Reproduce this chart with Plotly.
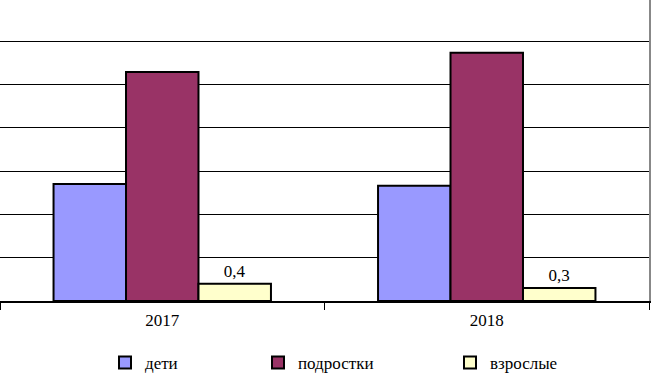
import plotly.graph_objects as go

years = ["2017", "2018"]
deti = [2.70, 2.66]
podrostki = [5.29, 5.73]
vzroslye = [0.4, 0.3]

series_names = ["дети", "подростки", "взрослые"]
colors = ["#9999FF", "#993366", "#FFFFCC"]

FONT = "Liberation Serif"
PW = 649.0
PH = 301.0

fig = go.Figure()
legend_px = [105, 258, 450]
for i, (name, vals, col) in enumerate(zip(series_names, [deti, podrostki, vzroslye], colors)):
    lg = "legend" if i == 0 else f"legend{i+1}"
    kw = {}
    if name == "взрослые":
        kw = dict(texttemplate="%{y:.1f}", textposition="outside",
                  textfont=dict(family=FONT, size=17, color="black"), cliponaxis=False)
    fig.add_trace(go.Bar(
        x=years, y=vals, name=name,
        marker=dict(color=col, line=dict(color="black", width=2)),
        legend=lg, **kw))

legend_common = dict(orientation="h", yanchor="middle", xanchor="left", y=(PH - 363) / PH,
                     font=dict(family=FONT, size=17, color="black"),
                     bgcolor="rgba(0,0,0,0)", borderwidth=0)

fig.update_layout(
    template="none",
    font=dict(family=FONT, size=17, color="black"),
    width=652, height=374,
    margin=dict(l=0, r=3, t=0, b=73, autoexpand=False),
    plot_bgcolor="white", paper_bgcolor="white",
    separators=",.",
    bargap=0.33, bargroupgap=0,
    showlegend=True,
    legend=dict(x=legend_px[0] / PW, **legend_common),
    legend2=dict(x=legend_px[1] / PW, **legend_common),
    legend3=dict(x=legend_px[2] / PW, **legend_common),
    xaxis=dict(type="category", showline=True, linecolor="black", linewidth=2,
               ticks="outside", tickson="boundaries", ticklen=7, tickcolor="black", tickwidth=1,
               ticklabelstandoff=3,
               tickfont=dict(family=FONT, size=17, color="black"), showgrid=False,
               automargin=False),
    yaxis=dict(range=[0, 6.95], dtick=1, showgrid=True, gridcolor="black", gridwidth=1,
               showticklabels=False, side="right", showline=True, linecolor="#888888",
               linewidth=2, zeroline=False, ticks="", automargin=False),
)

fig.write_html("out.html", config={"displayModeBar": False},
               post_script="document.body.style.margin='0';document.body.style.padding='0';")
